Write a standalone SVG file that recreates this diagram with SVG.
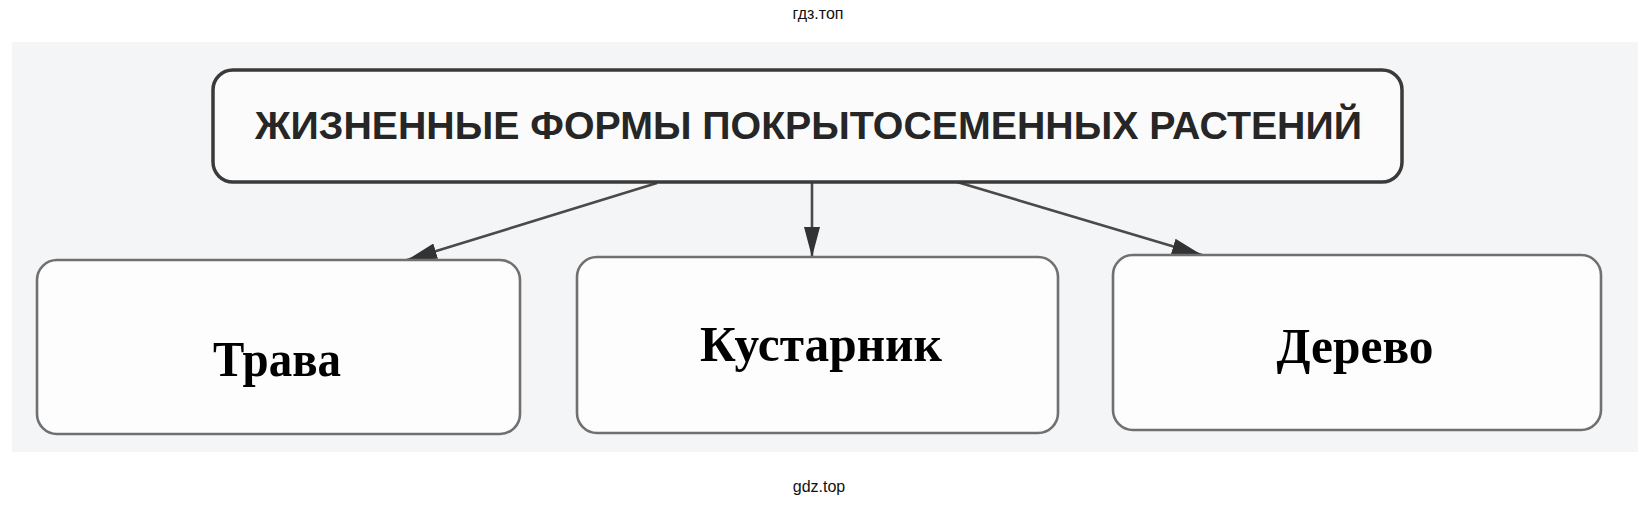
<svg xmlns="http://www.w3.org/2000/svg" width="1638" height="506" viewBox="0 0 1638 506">
  <defs>
    <style>
      .hdr { fill: #fbfbfb; stroke: #3a3a3a; stroke-width: 3.5; }
      .box { fill: #fdfdfd; stroke: #707070; stroke-width: 2.6; }
      .hdrtxt { font-family: "Liberation Sans", Arial, sans-serif; font-weight: bold; font-size: 39px; fill: #262626; }
      .lbl { font-family: "Liberation Serif", "Times New Roman", serif; font-weight: bold; font-size: 51px; fill: #000; text-anchor: middle; }
      .wm { font-family: "Liberation Sans", Arial, sans-serif; font-size: 16px; fill: #111; text-anchor: middle; }
      .conn { stroke: #4a4a4a; stroke-width: 2.6; fill: none; }
    </style>
    <marker id="ah" viewBox="0 0 30 16" refX="30" refY="8" markerWidth="30" markerHeight="16" markerUnits="userSpaceOnUse" orient="auto">
      <path d="M0,0 L30,8 L0,16 Z" fill="#333"/>
    </marker>
  </defs>

  <rect x="0" y="0" width="1638" height="506" fill="#ffffff"/>
  <rect x="12" y="42" width="1626" height="410" fill="#f4f5f7"/>

  <text class="wm" x="818" y="19">гдз.топ</text>
  <text class="wm" x="819" y="492">gdz.top</text>

  <g id="connectors">
    <line class="conn" x1="657" y1="183" x2="407" y2="260" marker-end="url(#ah)"/>
    <line class="conn" x1="812" y1="183" x2="812" y2="257" marker-end="url(#ah)"/>
    <line class="conn" x1="957" y1="182" x2="1202" y2="255" marker-end="url(#ah)"/>
  </g>

  <g id="node-header">
    <rect class="hdr" x="213" y="70" width="1189" height="112" rx="20" ry="20"/>
    <text class="hdrtxt" x="255" y="139" textLength="1107" lengthAdjust="spacingAndGlyphs">ЖИЗНЕННЫЕ ФОРМЫ ПОКРЫТОСЕМЕННЫХ РАСТЕНИЙ</text>
  </g>

  <g id="node-trava">
    <rect class="box" x="37" y="260" width="483" height="174" rx="20" ry="20"/>
    <text class="lbl" x="277" y="376" textLength="128" lengthAdjust="spacingAndGlyphs">Трава</text>
  </g>

  <g id="node-kustarnik">
    <rect class="box" x="577" y="257" width="481" height="176" rx="20" ry="20"/>
    <text class="lbl" x="821" y="361" textLength="242" lengthAdjust="spacingAndGlyphs">Кустарник</text>
  </g>

  <g id="node-derevo">
    <rect class="box" x="1113" y="255" width="488" height="175" rx="20" ry="20"/>
    <text class="lbl" x="1355" y="363" textLength="157" lengthAdjust="spacingAndGlyphs">Дерево</text>
  </g>
</svg>
